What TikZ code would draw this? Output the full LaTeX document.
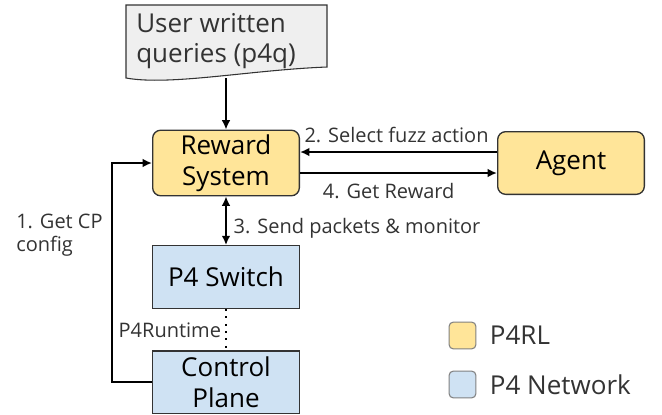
\documentclass[tikz,border=0pt]{standalone}
\usepackage{fontspec}
\setmainfont{Open Sans}
\usetikzlibrary{positioning, arrows.meta}

\definecolor{rlyellow}{HTML}{FFE599}
\definecolor{netblue}{HTML}{CFE2F3}
\definecolor{docgray}{HTML}{EFEFEF}
\definecolor{inkgray}{HTML}{333333}

\begin{document}
\begin{tikzpicture}[x=0.75pt, y=-0.75pt,
            rlbox/.style={draw=inkgray, line width=1pt, fill=rlyellow, rounded corners=6pt, minimum width=110pt, minimum height=47pt, align=center, text=black, font=\fontsize{19.5}{23}\selectfont},
            netbox/.style={rlbox, fill=netblue, sharp corners},
            tip/.style={Latex[length=7pt, width=6.5pt]},
            flow/.style={-{Latex[length=7pt, width=6.5pt]}, line width=1.5pt},
            steplabel/.style={text=inkgray, inner sep=0pt, font=\fontsize{15}{17}\selectfont},
            keybox/.style={draw=gray, line width=0.8pt, rounded corners=3pt, minimum size=20pt, inner sep=0pt},
            keytext/.style={text=inkgray, inner sep=0pt, font=\fontsize{19.5}{23}\selectfont}
        ]
        \useasboundingbox (0,0) rectangle (662,415);

        % query document
        \filldraw[draw=inkgray, fill=docgray, line width=0.8pt] (126,5) -- (327,5) -- (327,67)
            .. controls (250,70) and (170,86) .. (126,78) -- cycle;
        \node[align=left, anchor=west, inner sep=0pt, text=inkgray, font=\fontsize{19.5}{23}\selectfont] (query) at (136,41) {User written\\queries (p4q)};
        \coordinate (querybot) at (226,78);

        % boxes
        \node[rlbox] (reward) at (226,163) {Reward\\System};
        \node[rlbox, right=147.75pt of reward] (agent) {Agent};
        \node[netbox, below=36.5pt of reward] (switch) {P4 Switch};
        \node[netbox, below=31pt of switch] (cp) {Control\\Plane};

        % arrows
        \draw[flow] (querybot) -- (reward.north);
        \draw[flow] ([yshift=8.25pt]agent.west) -- ([yshift=8.25pt]reward.east)
            node[pos=0.51, above=6pt, steplabel] {2. Select fuzz action};
        \draw[flow] ([yshift=-7.5pt]reward.east) -- ([yshift=-7.5pt]agent.west)
            node[pos=0.45, below=7pt, steplabel] {4. Get Reward};
        \draw[line width=1.5pt, {Latex[length=7pt, width=6.5pt]}-{Latex[length=7pt, width=6.5pt]}] (reward.south) -- (switch.north)
            node[pos=0.65, right=5pt, steplabel] {3. Send packets \& monitor};
        \draw[line width=1.5pt, dash pattern=on 1.5pt off 4pt] (switch.south) -- (cp.north)
            node[midway, left=3pt, steplabel] {P4Runtime};
        \draw[flow] (cp.west) -- ++(-40,0) |- (reward.west);
        \node[steplabel, align=left, anchor=west] (cplabel) at (16,235) {1. Get CP\\config};

        % legend
        \node[keybox, fill=rlyellow] (keyrl) at (462.5,335.5) {};
        \node[keytext, right=10pt of keyrl] (keyrltext) {P4RL};
        \node[keybox, fill=netblue] (keynet) at (462.5,384.5) {};
        \node[keytext, right=10pt of keynet] (keynettext) {P4 Network};

    \end{tikzpicture}
\end{document}
